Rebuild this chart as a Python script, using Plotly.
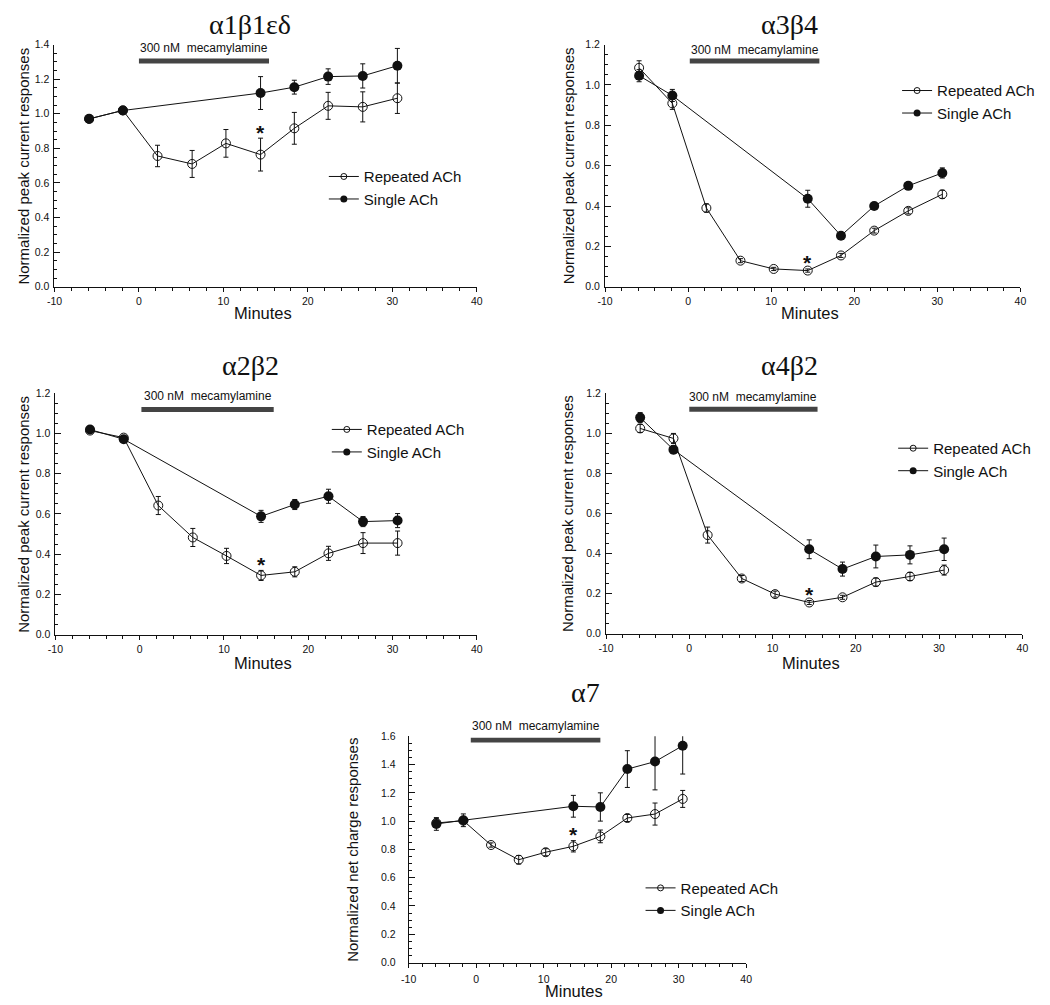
import plotly.graph_objects as go

# ---------------- data ----------------
times_rep = [-5.9, -1.9, 2.2, 6.3, 10.3, 14.4, 18.4, 22.4, 26.5, 30.6]
times_single = [-5.9, -1.9, 14.4, 18.4, 22.4, 26.5, 30.6]

a1b1ed_rep = [0.97, 1.02, 0.756, 0.71, 0.829, 0.764, 0.916, 1.046, 1.04, 1.09]
a1b1ed_rep_err = [0.02, 0.02, 0.062, 0.078, 0.08, 0.095, 0.092, 0.078, 0.087, 0.088]
a1b1ed_single = [0.971, 1.019, 1.12, 1.154, 1.215, 1.219, 1.278]
a1b1ed_single_err = [0.015, 0.015, 0.095, 0.04, 0.045, 0.07, 0.1]

a3b4_rep = [1.085, 0.909, 0.39, 0.129, 0.088, 0.08, 0.155, 0.278, 0.376, 0.458]
a3b4_rep_err = [0.035, 0.03, 0.02, 0.01, 0.008, 0.008, 0.01, 0.012, 0.015, 0.02]
a3b4_single = [1.046, 0.948, 0.436, 0.253, 0.40, 0.50, 0.564]
a3b4_single_err = [0.03, 0.03, 0.042, 0.012, 0.012, 0.015, 0.025]

a2b2_rep = [1.015, 0.98, 0.642, 0.483, 0.391, 0.294, 0.312, 0.404, 0.455, 0.455]
a2b2_rep_err = [0.01, 0.01, 0.045, 0.045, 0.038, 0.025, 0.025, 0.035, 0.052, 0.06]
a2b2_single = [1.02, 0.972, 0.588, 0.647, 0.688, 0.562, 0.567]
a2b2_single_err = [0.01, 0.01, 0.03, 0.025, 0.035, 0.025, 0.035]

a4b2_rep = [1.025, 0.975, 0.492, 0.275, 0.197, 0.155, 0.181, 0.257, 0.285, 0.317]
a4b2_rep_err = [0.02, 0.025, 0.04, 0.015, 0.015, 0.01, 0.01, 0.02, 0.02, 0.025]
a4b2_single = [1.079, 0.919, 0.421, 0.322, 0.385, 0.393, 0.421]
a4b2_single_err = [0.025, 0.02, 0.047, 0.035, 0.057, 0.045, 0.056]

a7_rep = [0.987, 1.003, 0.831, 0.727, 0.78, 0.822, 0.892, 1.022, 1.05, 1.157]
a7_rep_err = [0.03, 0.02, 0.015, 0.03, 0.025, 0.04, 0.045, 0.025, 0.078, 0.06]
a7_single = [0.98, 1.006, 1.105, 1.1, 1.368, 1.421, 1.533]
a7_single_err = [0.045, 0.045, 0.077, 0.1, 0.13, 0.2, 0.2]

# mecamylamine application interval (minutes) per panel
mec_a1b1ed = [0, 15.4]
mec_a3b4 = [0.2, 15.8]
mec_a2b2 = [0.2, 15.9]
mec_a4b2 = [0, 15.4]
mec_a7 = [-0.8, 18.4]

star_index = 5  # significant time point (index in times_rep)

titles = ["α1β1εδ", "α3β4", "α2β2", "α4β2", "α7"]
y_titles = ["Normalized peak current responses"] * 4 + ["Normalized net charge responses"]
y_max = [1.4, 1.2, 1.2, 1.2, 1.6]
x_tick_vals = [-10, 0, 10, 20, 30, 40]
x_tick_text = ["-10", "0", "10", "20", "30", "40"]
series_names = ["Repeated ACh", "Single ACh"]
mec_label = "300 nM  mecamylamine"
x_label = "Minutes"

panels_data = [
    (a1b1ed_rep, a1b1ed_rep_err, a1b1ed_single, a1b1ed_single_err, mec_a1b1ed),
    (a3b4_rep, a3b4_rep_err, a3b4_single, a3b4_single_err, mec_a3b4),
    (a2b2_rep, a2b2_rep_err, a2b2_single, a2b2_single_err, mec_a2b2),
    (a4b2_rep, a4b2_rep_err, a4b2_single, a4b2_single_err, mec_a4b2),
    (a7_rep, a7_rep_err, a7_single, a7_single_err, mec_a7),
]

# ---------------- layout (screen-pixel geometry) ----------------
W, H = 1050, 1005
OFF = 8  # page body margin
# plot-area boxes: x0, x1, ytop, ybottom
boxes = [(47, 475, 39, 284), (605, 1026, 39, 284), (48, 475, 392, 636),
         (606, 1028, 392, 635), (406, 748, 739, 968)]
title_pos = [(245, 19), (792, 19), (246, 364), (792, 364), (585, 695)]
ytitle_x = [16, 568, 16, 567, 349]
xtitle_y = [311, 311, 665, 665, 997]
legend_pos = [(329, 173), (910, 86), (332, 429), (906, 448), (650, 893)]
mec_text_frac = [0.985, 0.978, 0.99, 0.984, 1.046]
mec_bar_frac = [0.932, 0.932, 0.933, 0.934, 0.983]
ylab_standoff = [2, 2, 2, 2, 10]

FONT = "Liberation Sans, Arial, sans-serif"
SERIF = "Liberation Serif, Times New Roman, serif"
INK = "#111111"


def px(x):
    return (x - OFF) / W


def py(y):
    return 1 - (y - OFF) / H


fig = go.Figure()
layout = dict(width=W, height=H, margin=dict(l=0, r=0, t=0, b=0),
              paper_bgcolor="white", plot_bgcolor="white", showlegend=True,
              font=dict(family=FONT, color=INK))
annotations = []
shapes = []

for i, (rep, rep_err, sing, sing_err, mec) in enumerate(panels_data):
    n = i + 1
    xa = "x" if n == 1 else f"x{n}"
    ya = "y" if n == 1 else f"y{n}"
    leg = "legend" if n == 1 else f"legend{n}"
    x0, x1, yt, yb = boxes[i]

    fig.add_trace(go.Scatter(
        x=times_rep, y=rep, xaxis=xa, yaxis=ya, mode="lines+markers",
        line=dict(color=INK, width=1),
        marker=dict(symbol="circle-open", size=9, color=INK, line=dict(width=1, color=INK)),
        error_y=dict(type="data", array=rep_err, color=INK, thickness=1, width=2.5),
        showlegend=False, name=series_names[0]))
    fig.add_trace(go.Scatter(
        x=times_single, y=sing, xaxis=xa, yaxis=ya, mode="lines+markers",
        line=dict(color=INK, width=1),
        marker=dict(symbol="circle", size=10, color=INK),
        error_y=dict(type="data", array=sing_err, color=INK, thickness=1, width=2.5),
        showlegend=False, name=series_names[1]))
    # legend entries
    fig.add_trace(go.Scatter(
        x=[None], y=[None], xaxis=xa, yaxis=ya, mode="lines+markers", legend=leg,
        line=dict(color=INK, width=1),
        marker=dict(symbol="circle-open", size=6, color=INK, line=dict(width=1, color=INK)),
        name=series_names[0]))
    fig.add_trace(go.Scatter(
        x=[None], y=[None], xaxis=xa, yaxis=ya, mode="lines+markers", legend=leg,
        line=dict(color=INK, width=1),
        marker=dict(symbol="circle", size=7, color=INK),
        name=series_names[1]))

    axis_key_x = "xaxis" if n == 1 else f"xaxis{n}"
    axis_key_y = "yaxis" if n == 1 else f"yaxis{n}"
    layout[axis_key_x] = dict(
        domain=[px(x0), px(x1)], range=[-10, 40], anchor=ya,
        showline=True, linecolor=INK, linewidth=1, showgrid=False, zeroline=False,
        ticks="outside", ticklen=4, tickwidth=1, tickcolor=INK,
        tickmode="array", tickvals=x_tick_vals, ticktext=x_tick_text,
        tickfont=dict(size=10.5, family=FONT, color=INK),
        minor=dict(tickmode="linear", tick0=-10, dtick=2, ticks="outside",
                   ticklen=3, tickwidth=1, tickcolor=INK, showgrid=False),
        ticklabelstandoff=1 if n < 5 else 3)
    layout[axis_key_y] = dict(
        domain=[py(yb), py(yt)], range=[0, y_max[i]], anchor=xa,
        showline=True, linecolor=INK, linewidth=1, showgrid=False, zeroline=False,
        ticks="inside", ticklen=6, tickwidth=1, tickcolor=INK,
        tick0=0, dtick=0.2, tickformat=".1f",
        tickfont=dict(size=10.5, family=FONT, color=INK),
        minor=dict(tickmode="linear", tick0=0, dtick=0.05, ticks="inside",
                   ticklen=3, tickwidth=1, tickcolor=INK, showgrid=False),
        ticklabelstandoff=ylab_standoff[i])

    lx, ly = legend_pos[i]
    layout[leg] = dict(x=px(lx - 9), y=py(ly - 17), xanchor="left", yanchor="top",
                       bgcolor="rgba(0,0,0,0)", borderwidth=0, tracegroupgap=0,
                       font=dict(size=15, family=FONT, color=INK))

    # panel title
    tx, ty = title_pos[i]
    annotations.append(dict(text=titles[i], x=px(tx), y=py(ty), xref="paper", yref="paper",
                            showarrow=False, xanchor="center", yanchor="middle",
                            font=dict(family=SERIF, size=28, color=INK)))
    # y title
    annotations.append(dict(text=y_titles[i], x=px(ytitle_x[i]), y=py((yt + yb) / 2),
                            xref="paper", yref="paper", showarrow=False, textangle=-90,
                            xanchor="center", yanchor="middle",
                            font=dict(family=FONT, size=15, color=INK)))
    # x title
    annotations.append(dict(text=x_label, x=px((x0 + x1) / 2 - 3), y=py(xtitle_y[i]),
                            xref="paper", yref="paper", showarrow=False,
                            xanchor="center", yanchor="middle",
                            font=dict(family=FONT, size=16.5, color=INK)))
    # mecamylamine bar + label
    shapes.append(dict(type="rect", xref=xa, yref=f"{ya} domain",
                       x0=mec[0], x1=mec[1],
                       y0=mec_bar_frac[i] - 2.5 / (yb - yt), y1=mec_bar_frac[i] + 2.5 / (yb - yt),
                       fillcolor="#444444", line=dict(width=0)))
    annotations.append(dict(text=mec_label, x=(mec[0] + mec[1]) / 2, y=mec_text_frac[i],
                            xref=xa, yref=f"{ya} domain", showarrow=False,
                            xanchor="center", yanchor="middle",
                            font=dict(family=FONT, size=12, color=INK)))
    # significance asterisk
    annotations.append(dict(text="<b>*</b>", x=times_rep[star_index],
                            y=rep[star_index] + rep_err[star_index],
                            xref=xa, yref=ya, showarrow=False, xanchor="center",
                            yanchor="middle", yshift=6,
                            font=dict(family=FONT, size=21, color=INK)))

layout["annotations"] = annotations
layout["shapes"] = shapes
fig.update_layout(**layout)
fig.write_html("out.html")
